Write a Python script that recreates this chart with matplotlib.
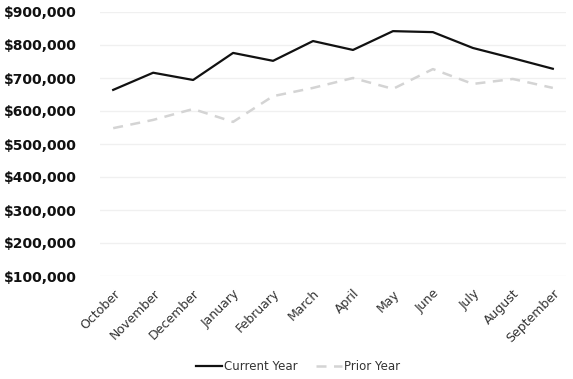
import matplotlib.pyplot as plt
from matplotlib.ticker import FuncFormatter

months = ['October', 'November', 'December', 'January', 'February', 'March',
          'April', 'May', 'June', 'July', 'August', 'September']
current_year = [664000, 716000, 694000, 776000, 752000, 812000,
                785000, 842000, 839000, 791000, 760000, 728000]
prior_year = [548000, 573000, 606000, 567000, 645000, 670000,
              700000, 667000, 727000, 682000, 697000, 670000]

fig = plt.figure(figsize=(5.73, 3.79), dpi=100)
ax = fig.add_axes([100/573, 1-276/379, 466/573, 264/379])

x = range(len(months))
ax.plot(x, current_year, color='#111111', lw=1.6, label='Current Year')
ax.plot(x, prior_year, color='#d4d4d4', lw=1.8, ls=(0, (4, 3)), label='Prior Year')

ax.set_xlim(-0.33, 11.33)
ax.set_ylim(100000, 900000)
ax.set_yticks(range(100000, 900001, 100000))
ax.yaxis.set_major_formatter(FuncFormatter(lambda v, p: '${:,.0f}'.format(v)))
ax.grid(axis='y', color='#f0f0f0', lw=1)
ax.set_axisbelow(True)
for s in ax.spines.values():
    s.set_visible(False)
ax.tick_params(length=0)
ax.tick_params(axis='y', pad=17)
for t in ax.get_yticklabels():
    t.set_fontweight('bold')
    t.set_fontsize(10)
    t.set_color('#111111')

ax.set_xticks(list(x))
ax.set_xticklabels(months, rotation=45, ha='right', rotation_mode='anchor',
                   fontsize=9, color='#333333')
ax.tick_params(axis='x', pad=8)

fig.legend(loc='center', bbox_to_anchor=(0.52, 0.032), ncol=2, frameon=False,
           fontsize=8.5, handlelength=2.2, handletextpad=0.2, columnspacing=1.5,
           labelcolor='#333333')

fig.savefig('out.png', dpi=100)
